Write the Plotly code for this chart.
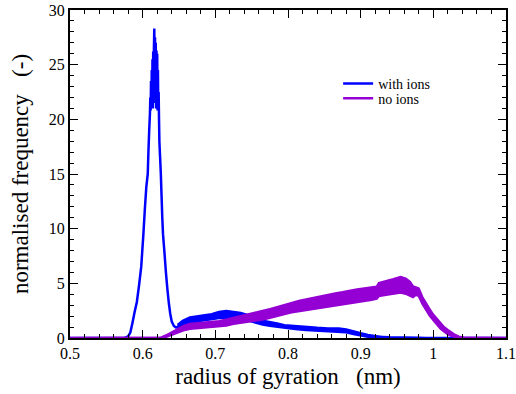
import plotly.graph_objects as go

# ---- data ----
# "with ions": main line (radius of gyration in nm, normalised frequency)
with_ions_x = [0.500, 0.575, 0.580, 0.583, 0.586, 0.589, 0.592, 0.595, 0.598, 0.601,
               0.603, 0.605, 0.607, 0.608, 0.609, 0.6100, 0.6105, 0.6110, 0.6115, 0.6120,
               0.6125, 0.6130, 0.6135, 0.6140, 0.6145, 0.6150, 0.6155, 0.6160, 0.6165, 0.6170,
               0.6175, 0.6180, 0.6185, 0.6190, 0.6195, 0.6200, 0.6205, 0.6210, 0.6215, 0.6220,
               0.6225, 0.6230, 0.624, 0.625, 0.626, 0.627, 0.628, 0.630, 0.632, 0.634,
               0.636, 0.638, 0.640, 0.643, 0.646, 0.650, 0.660, 0.670, 0.680, 0.690,
               0.700, 0.710, 0.720, 0.730, 0.740, 0.750, 0.760, 0.770, 0.780, 0.790,
               0.800, 0.820, 0.840, 0.860, 0.870, 0.880, 0.890, 0.900, 0.910, 0.920,
               0.940, 0.960, 0.980, 0.990, 1.100]
with_ions_y = [0.0, 0.0, 0.15, 0.5, 1.4, 2.4, 3.3, 4.8, 6.5, 9.5,
               11.8, 13.8, 15.0, 17.2, 19.0, 20.5, 22.0, 20.8, 23.5, 21.0,
               24.5, 21.2, 25.5, 21.0, 26.2, 21.5, 26.5, 28.3, 22.0, 27.5,
               21.5, 27.0, 21.0, 26.3, 21.0, 26.0, 20.8, 24.5, 21.0, 22.5,
               20.0, 18.0, 16.5, 15.0, 13.0, 11.0, 9.5, 7.8, 6.0, 4.5,
               3.2, 2.2, 1.5, 1.1, 0.95, 1.1, 1.5, 1.7, 1.8, 1.9,
               2.05, 2.15, 2.1, 2.05, 1.9, 1.7, 1.5, 1.35, 1.2, 1.1,
               1.0, 0.88, 0.8, 0.75, 0.75, 0.65, 0.48, 0.33, 0.2, 0.12,
               0.06, 0.04, 0.02, 0.0, 0.0]

# "with ions": noisy band in the secondary hump (lower / upper edge)
with_band_x = [0.648, 0.655, 0.665, 0.675, 0.685, 0.695, 0.705, 0.715, 0.725, 0.735,
               0.745, 0.755, 0.765, 0.775, 0.785, 0.795, 0.810, 0.825, 0.840, 0.855,
               0.870, 0.880, 0.890, 0.900, 0.910, 0.920, 0.930]
with_band_lo = [0.9, 1.1, 1.3, 1.5, 1.6, 1.7, 1.8, 1.8, 1.8, 1.7,
                1.6, 1.4, 1.2, 1.1, 1.0, 0.9, 0.8, 0.7, 0.65, 0.6,
                0.6, 0.5, 0.35, 0.2, 0.1, 0.05, 0.02]
with_band_hi = [1.2, 1.6, 1.9, 2.0, 2.1, 2.2, 2.4, 2.5, 2.4, 2.3,
                2.1, 1.9, 1.6, 1.5, 1.35, 1.2, 1.1, 1.0, 0.95, 0.9,
                0.9, 0.8, 0.6, 0.45, 0.3, 0.18, 0.1]

# "no ions": noisy band (lower / upper edge)
no_ions_x = [0.500, 0.625, 0.632, 0.640, 0.648, 0.656, 0.665, 0.675, 0.685, 0.695,
             0.705, 0.715, 0.725, 0.735, 0.745, 0.755, 0.765, 0.775, 0.785, 0.795,
             0.805, 0.815, 0.825, 0.835, 0.845, 0.855, 0.865, 0.875, 0.885, 0.895,
             0.905, 0.915, 0.922, 0.925, 0.935, 0.945, 0.955, 0.962, 0.968, 0.972,
             0.976, 0.980, 0.985, 0.990, 0.995, 1.000, 1.005, 1.010, 1.015, 1.020,
             1.025, 1.030, 1.035, 1.042, 1.100]
no_ions_lo = [0.0, 0.0, 0.1, 0.3, 0.5, 0.7, 0.85, 0.9, 0.95, 1.0,
              1.05, 1.15, 1.3, 1.4, 1.5, 1.55, 1.7, 1.85, 2.05, 2.2,
              2.35, 2.45, 2.55, 2.7, 2.8, 2.9, 3.0, 3.1, 3.2, 3.3,
              3.4, 3.5, 3.6, 3.85, 3.95, 4.05, 4.15, 4.05, 3.85, 3.75,
              3.95, 3.85, 3.15, 2.55, 2.05, 1.65, 1.25, 0.85, 0.6, 0.35,
              0.2, 0.1, 0.04, 0.0, 0.0]
no_ions_hi = [0.0, 0.05, 0.25, 0.55, 0.85, 1.1, 1.3, 1.35, 1.4, 1.45,
              1.55, 1.7, 1.85, 2.0, 2.15, 2.3, 2.45, 2.65, 2.85, 3.05,
              3.25, 3.4, 3.55, 3.7, 3.85, 3.95, 4.1, 4.2, 4.35, 4.45,
              4.55, 4.65, 4.7, 5.05, 5.2, 5.4, 5.6, 5.45, 5.15, 4.75,
              4.65, 4.55, 3.75, 3.15, 2.65, 2.15, 1.75, 1.35, 1.0, 0.75,
              0.5, 0.3, 0.15, 0.04, 0.0]

x_ticks = [0.5, 0.6, 0.7, 0.8, 0.9, 1.0, 1.1]
x_tick_labels = ["0.5", "0.6", "0.7", "0.8", "0.9", "1", "1.1"]
y_ticks = [0, 5, 10, 15, 20, 25, 30]

BLUE = "#0000ff"
VIOLET = "#9400d3"
FONT = "Liberation Serif"

fig = go.Figure()

# with ions
fig.add_trace(go.Scatter(x=with_ions_x, y=with_ions_y, mode="lines", name="with ions",
                         line=dict(color=BLUE, width=2.5, simplify=False), legend="legend"))
fig.add_trace(go.Scatter(x=with_band_x, y=with_band_lo, mode="lines", showlegend=False,
                         line=dict(color=BLUE, width=2), hoverinfo="skip"))
fig.add_trace(go.Scatter(x=with_band_x, y=with_band_hi, mode="lines", showlegend=False,
                         fill="tonexty", fillcolor=BLUE,
                         line=dict(color=BLUE, width=2), hoverinfo="skip"))

# no ions
fig.add_trace(go.Scatter(x=no_ions_x, y=no_ions_lo, mode="lines", name="no ions",
                         line=dict(color=VIOLET, width=2.5), legend="legend2"))
fig.add_trace(go.Scatter(x=no_ions_x, y=no_ions_hi, mode="lines", showlegend=False,
                         fill="tonexty", fillcolor=VIOLET,
                         line=dict(color=VIOLET, width=2), hoverinfo="skip"))

axis_common = dict(
    showline=True, linecolor="black", linewidth=2, mirror="allticks",
    ticks="inside", ticklen=8, tickwidth=1, tickcolor="black",
    showgrid=False, zeroline=False, automargin=False,
    tickfont=dict(family=FONT, size=16, color="black"),
)

fig.update_xaxes(range=[0.5, 1.1], tickvals=x_ticks, ticktext=x_tick_labels,
                 minor=dict(dtick=0.02, ticklen=4, ticks="inside", tickcolor="black", showgrid=False),
                 title=dict(text="radius of gyration\u00a0\u00a0\u00a0(nm)",
                            font=dict(family=FONT, size=23, color="black"), standoff=7),
                 **axis_common)
fig.update_yaxes(range=[0, 30], tickvals=y_ticks,
                 minor=dict(dtick=1, ticklen=4, ticks="inside", tickcolor="black", showgrid=False),
                 title=dict(text="normalised frequency\u00a0\u00a0\u00a0(-)",
                            font=dict(family=FONT, size=23, color="black"), standoff=14),
                 **axis_common)

legend_common = dict(font=dict(family=FONT, size=14, color="black"),
                     bgcolor="rgba(0,0,0,0)", borderwidth=0,
                     xanchor="left", yanchor="middle", itemwidth=30)
fig.update_layout(
    width=516, height=394,
    margin=dict(l=70, r=10, t=10, b=56),
    paper_bgcolor="white", plot_bgcolor="white",
    font=dict(family=FONT, color="black"),
    legend=dict(x=0.615, y=0.775, **legend_common),
    legend2=dict(x=0.615, y=0.73, **legend_common),
)

fig.write_html("out.html", config={"displayModeBar": False},
               post_script="document.body.style.margin='0';document.body.style.padding='0';")
